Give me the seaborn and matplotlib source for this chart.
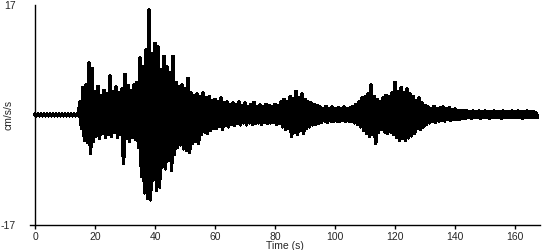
import numpy as np
import pandas as pd
import matplotlib
matplotlib.use("Agg")
import matplotlib.pyplot as plt
import seaborn as sns

# Envelope of the record, read per second (cm/s/s)
upper = [
    0.1, 0.1, 0.1, 0.1, 0.1, 0.1, 0.1, 0.1, 0.1, 0.1,
    0.1, 0.1, 0.1, 0.1, 0.1, 2.0, 4.2, 4.6, 8.0, 7.2,
    3.5, 4.4, 3.0, 3.8, 3.2, 6.0, 3.6, 4.3, 3.4, 4.0,
    6.2, 4.5, 3.8, 4.6, 5.0, 8.8, 7.5, 10.0, 16.2, 9.5,
    11.0, 10.5, 7.0, 9.0, 7.4, 6.5, 9.0, 5.0, 4.3, 4.6,
    4.0, 5.6, 3.4, 3.0, 3.2, 2.8, 3.4, 2.6, 2.8, 2.2,
    2.4, 2.0, 2.6, 1.8, 2.0, 1.6, 1.8, 1.5, 2.0, 1.4,
    1.8, 1.3, 1.6, 1.9, 1.3, 1.5, 1.2, 1.6, 1.4, 1.3,
    1.6, 1.4, 2.0, 2.4, 2.0, 2.8, 2.5, 3.6, 2.6, 3.2,
    2.4, 2.0, 1.8, 1.6, 1.4, 1.2, 1.0, 1.3, 1.0, 1.2,
    1.0, 1.1, 0.9, 1.2, 1.0, 1.1, 1.3, 1.6, 2.0, 2.6,
    2.8, 3.2, 4.6, 2.8, 2.4, 2.0, 2.6, 3.0, 2.8, 3.4,
    5.0, 3.6, 4.2, 3.4, 4.0, 3.2, 2.8, 2.2, 2.6, 1.8,
    1.4, 1.2, 1.0, 1.3, 1.0, 1.1, 1.2, 0.9, 1.1, 0.8,
    0.9, 0.7, 0.6, 0.7, 0.6, 0.5, 0.6, 0.5, 0.6, 0.5,
    0.6, 0.5, 0.5, 0.6, 0.5, 0.5, 0.6, 0.5, 0.5, 0.6,
    0.5, 0.6, 0.5, 0.5, 0.6, 0.5, 0.5, 0.3,
]
lower = [
    -0.1, -0.1, -0.1, -0.1, -0.1, -0.1, -0.1, -0.1, -0.1, -0.1,
    -0.1, -0.1, -0.1, -0.1, -0.1, -2.0, -3.9, -4.2, -5.9, -4.0,
    -3.2, -3.6, -2.8, -3.4, -3.0, -3.3, -2.6, -3.4, -3.0, -7.4,
    -3.6, -4.0, -3.4, -3.8, -5.0, -9.5, -12.0, -12.9, -13.1, -10.0,
    -11.6, -11.1, -8.0, -8.3, -7.0, -8.5, -6.0, -5.0, -4.6, -5.2,
    -5.4, -5.8, -4.3, -4.0, -4.4, -3.0, -2.6, -2.8, -2.3, -2.0,
    -2.0, -1.7, -2.2, -1.6, -1.8, -1.4, -1.6, -1.3, -1.5, -1.2,
    -1.5, -1.2, -1.4, -1.3, -1.2, -1.4, -1.1, -1.3, -1.2, -1.1,
    -1.4, -1.3, -1.8, -2.2, -2.0, -3.3, -2.6, -3.0, -2.4, -2.8,
    -2.0, -1.8, -1.5, -1.4, -1.3, -1.1, -0.9, -1.1, -0.9, -1.0,
    -0.9, -1.0, -0.8, -1.0, -0.9, -1.0, -1.2, -1.4, -1.8, -2.4,
    -2.8, -3.3, -3.0, -4.4, -2.6, -2.2, -2.6, -2.8, -2.6, -3.0,
    -3.4, -3.9, -3.6, -3.9, -3.5, -3.2, -2.8, -2.0, -2.2, -1.8,
    -1.4, -1.2, -1.0, -1.1, -0.9, -0.8, -0.9, -0.7, -0.8, -0.7,
    -0.6, -0.6, -0.5, -0.5, -0.4, -0.5, -0.4, -0.4, -0.5, -0.4,
    -0.4, -0.5, -0.4, -0.4, -0.4, -0.5, -0.4, -0.4, -0.4, -0.4,
    -0.4, -0.4, -0.5, -0.4, -0.4, -0.4, -0.4, -0.3,
]
step_s = 1.0
x_ticks = [0, 20, 40, 60, 80, 100, 120, 140, 160]
y_ticks = [-17, 17]

n = len(upper)
t = np.arange(n) * step_s
xs = np.empty(2 * n)
ys = np.empty(2 * n)
xs[0::2] = t
xs[1::2] = t + step_s / 2
ys[0::2] = upper
ys[1::2] = lower
df = pd.DataFrame({"Time (s)": xs, "acc": ys})

sns.set_style("white")
plt.rcParams["font.family"] = ["Liberation Sans", "DejaVu Sans"]

fig = plt.figure(figsize=(5.5, 2.5), dpi=100)
ax = fig.add_axes([30 / 550, 1 - 225 / 250, (540 - 30) / 550, 220 / 250])
sns.lineplot(data=df, x="Time (s)", y="acc", ax=ax, color="black",
             linewidth=2.0, estimator=None, sort=False, antialiased=False)

ax.set_xlim(-5 / 3, 168.3)
ax.set_ylim(-17, 17)
ax.spines["left"].set_position(("data", 0))
ax.spines["top"].set_visible(False)
ax.spines["right"].set_visible(False)
for s in ("left", "bottom"):
    ax.spines[s].set_color("black")
    ax.spines[s].set_linewidth(1.0)

ax.set_xticks(x_ticks)
ax.set_yticks(y_ticks)
ax.set_yticklabels([str(v) for v in y_ticks])
ax.tick_params(axis="x", direction="out", length=3, width=1, color="black",
               labelsize=7.5, pad=2, bottom=True)
ax.tick_params(axis="y", length=0, labelsize=7.5, pad=14)
ax.set_xlabel("Time (s)", fontsize=7.5, labelpad=-1)
ax.set_ylabel("cm/s/s", fontsize=7.5)
ax.yaxis.set_label_coords((14 - 30) / 510, 0.5)

fig.savefig("out.png", dpi=100)
